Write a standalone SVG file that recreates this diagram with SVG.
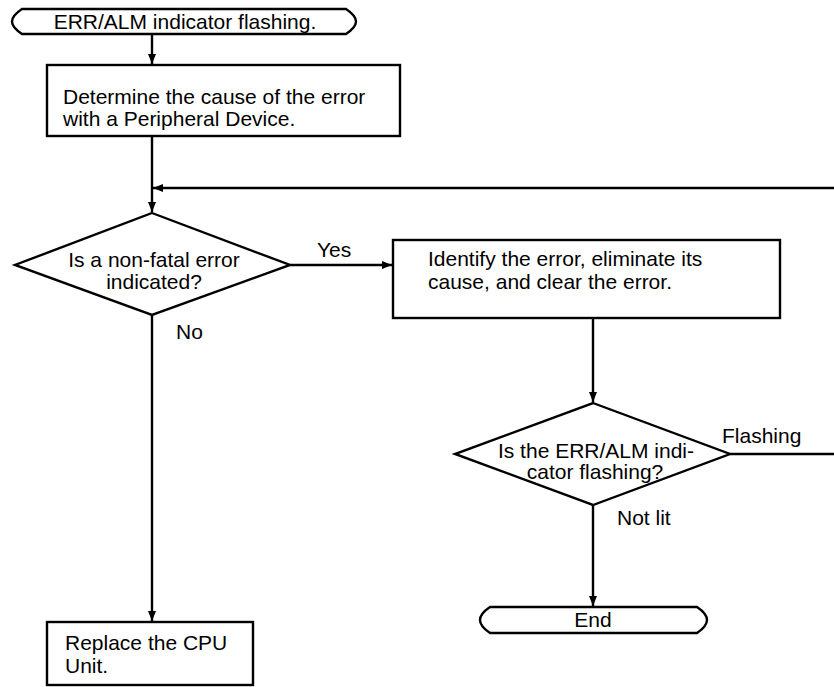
<svg xmlns="http://www.w3.org/2000/svg" width="834" height="687" viewBox="0 0 834 687">
<style>
.s{fill:#fff;stroke:#000;stroke-width:2.4}
.c{fill:none;stroke:#000;stroke-width:2.4}
text{font-family:"Liberation Sans",Arial,sans-serif;font-size:21px;fill:#000}
.m{text-anchor:middle}
</style>
<defs>
<marker id="a" viewBox="0 0 10 8" refX="10" refY="4" markerWidth="10" markerHeight="8" markerUnits="userSpaceOnUse" orient="auto">
<path d="M0,0 L10,4 L0,8 Z" fill="#000"/>
</marker>
</defs>
<g id="connectors">
<line class="c" x1="152" y1="34" x2="152" y2="64" marker-end="url(#a)"/>
<line class="c" x1="152" y1="136" x2="152" y2="212" marker-end="url(#a)"/>
<line class="c" x1="834" y1="188" x2="153" y2="188" marker-end="url(#a)"/>
<line class="c" x1="290" y1="265" x2="392" y2="265" marker-end="url(#a)"/>
<line class="c" x1="152" y1="315" x2="152" y2="621" marker-end="url(#a)"/>
<line class="c" x1="593" y1="318" x2="593" y2="402" marker-end="url(#a)"/>
<line class="c" x1="730" y1="454" x2="834" y2="454"/>
<line class="c" x1="593" y1="505" x2="593" y2="606" marker-end="url(#a)"/>
<text x="317" y="257">Yes</text>
<text x="176" y="339">No</text>
<text x="722" y="443">Flashing</text>
<text x="617" y="525">Not lit</text>
</g>
<g id="start">
<path class="s" d="M22,9 H346 C352,13 356,17 356,21.5 C356,26 352,30 346,34 H22 C16,30 12,26 12,21.5 C12,17 16,13 22,9 Z"/>
<text class="m" x="185" y="29">ERR/ALM indicator flashing.</text>
</g>
<g id="determine">
<rect class="s" x="47" y="65" width="353" height="71"/>
<text x="63" y="104">Determine the cause of the error</text>
<text x="63" y="126">with a Peripheral Device.</text>
</g>
<g id="decision1">
<polygon class="s" points="152,213 290,265 152,315 15,265"/>
<text class="m" x="154" y="267">Is a non-fatal error</text>
<text class="m" x="154" y="289">indicated?</text>
</g>
<g id="identify">
<rect class="s" x="393" y="240" width="387" height="78"/>
<text x="428" y="266">Identify the error, eliminate its</text>
<text x="428" y="289">cause, and clear the error.</text>
</g>
<g id="decision2">
<polygon class="s" points="593,403 730,454 593,505 455,454"/>
<text class="m" x="596" y="458">Is the ERR/ALM indi-</text>
<text class="m" x="595" y="479">cator flashing?</text>
</g>
<g id="end">
<path class="s" d="M490,607 H697 C703,611 707,615 707,620 C707,625 703,629 697,633 H490 C484,629 480,625 480,620 C480,615 484,611 490,607 Z"/>
<text class="m" x="593" y="627">End</text>
</g>
<g id="replace">
<rect class="s" x="47" y="622" width="206" height="63"/>
<text x="65" y="650">Replace the CPU</text>
<text x="65" y="673">Unit.</text>
</g>
</svg>
